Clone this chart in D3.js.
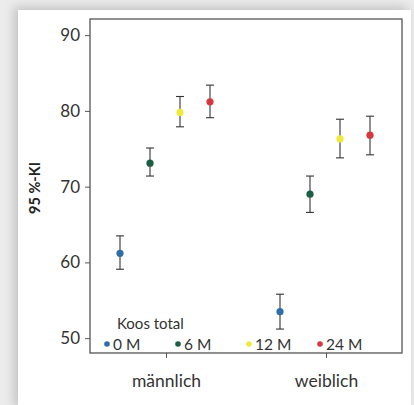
<!DOCTYPE html>
<html>
<head>
<meta charset="utf-8">
<script src="https://cdn.jsdelivr.net/npm/d3@7"></script>
<style>
  body { margin: 0; background: #ececec; font-family: Lato, "Open Sans", sans-serif; }
  #card { position: absolute; left: 18px; top: 10px; width: 393px; height: 400px; background: #fff;
          box-shadow: -4px -3px 10px rgba(0,0,0,0.18); }
  svg { position: absolute; left: 0; top: 0; }
</style>
</head>
<body>
<div id="card"></div>
<svg id="chart" width="414" height="405"></svg>
<script>
// data
const groups = ["männlich", "weiblich"];
const times = ["0 M", "6 M", "12 M", "24 M"];
const colors = ["#2f6ea8", "#1b5e44", "#f0ea3c", "#d8383b"];
const yTicks = [50, 60, 70, 80, 90];
// mean, lower, upper per group/time
const mean  = [[61.2, 73.1, 79.8, 81.2], [53.5, 69.0, 76.3, 76.8]];
const lower = [[59.1, 71.4, 77.9, 79.1], [51.2, 66.6, 73.8, 74.2]];
const upper = [[63.5, 75.1, 81.9, 83.4], [55.8, 71.4, 78.9, 79.3]];

const svg = d3.select("#chart");
const pLeft = 90, pRight = 402, pTop = 19, pBottom = 353;

const x = d3.scalePoint().domain(groups).range([pLeft, pRight]).padding(0.475);
const off = d3.scalePoint().domain(times).range([-46, 44]);
const y = d3.scaleLinear().domain([48.04, 92.13]).range([pBottom, pTop]);

// frame
svg.append("rect")
  .attr("x", pLeft).attr("y", pTop)
  .attr("width", pRight - pLeft).attr("height", pBottom - pTop)
  .attr("fill", "none").attr("stroke", "#555").attr("stroke-width", 1.3);

// y axis
const yAxis = svg.append("g").attr("transform", `translate(${pLeft},0)`)
  .call(d3.axisLeft(y).tickValues(yTicks).tickSize(5).tickPadding(5));
yAxis.select(".domain").remove();
yAxis.selectAll("line").attr("stroke", "#555");
yAxis.selectAll("text").attr("font-size", 17).attr("fill", "#333").attr("font-family", "Lato, sans-serif");

// x axis
const xAxis = svg.append("g").attr("transform", `translate(0,${pBottom})`)
  .call(d3.axisBottom(x).tickSize(5).tickPadding(17));
xAxis.select(".domain").remove();
xAxis.selectAll("line").attr("stroke", "#555");
xAxis.selectAll("text").attr("font-size", 17.5).attr("fill", "#333").attr("font-family", "Lato, sans-serif");

// y title
svg.append("text")
  .attr("transform", `translate(40,${(pTop + pBottom) / 2 + 2}) rotate(-90)`)
  .attr("text-anchor", "middle")
  .attr("font-size", 14.5).attr("font-weight", "bold").attr("fill", "#222")
  .text("95 %-KI");

// error bars + points
const pts = [];
groups.forEach((g, gi) => times.forEach((t, ti) => pts.push({ g, t, gi, ti })));

const bars = svg.append("g").selectAll("g").data(pts).join("g")
  .attr("transform", d => `translate(${x(d.g) + off(d.t)},0)`);
bars.append("line")
  .attr("y1", d => y(lower[d.gi][d.ti])).attr("y2", d => y(upper[d.gi][d.ti]))
  .attr("stroke", "#333").attr("stroke-width", 1.1);
bars.selectAll(".cap").data(d => [lower[d.gi][d.ti], upper[d.gi][d.ti]]).join("line")
  .attr("x1", -4).attr("x2", 4)
  .attr("y1", v => y(v)).attr("y2", v => y(v))
  .attr("stroke", "#333").attr("stroke-width", 1.1);
bars.append("circle")
  .attr("cy", d => y(mean[d.gi][d.ti]))
  .attr("r", 3.6)
  .attr("fill", d => colors[d.ti]);

// legend
const legend = svg.append("g");
legend.append("text").attr("x", 117).attr("y", 329)
  .attr("font-size", 15).attr("fill", "#333").text("Koos total");
const legX = d3.scalePoint().domain(times).range([107, 320]);
const item = legend.selectAll(".item").data(times).join("g")
  .attr("transform", d => `translate(${legX(d)},344)`);
item.append("circle").attr("r", 2.8).attr("fill", (d, i) => colors[i]);
item.append("text").attr("x", 6).attr("y", 5.5)
  .attr("font-size", 15.5).attr("fill", "#333").text(d => d);
</script>
</body>
</html>
